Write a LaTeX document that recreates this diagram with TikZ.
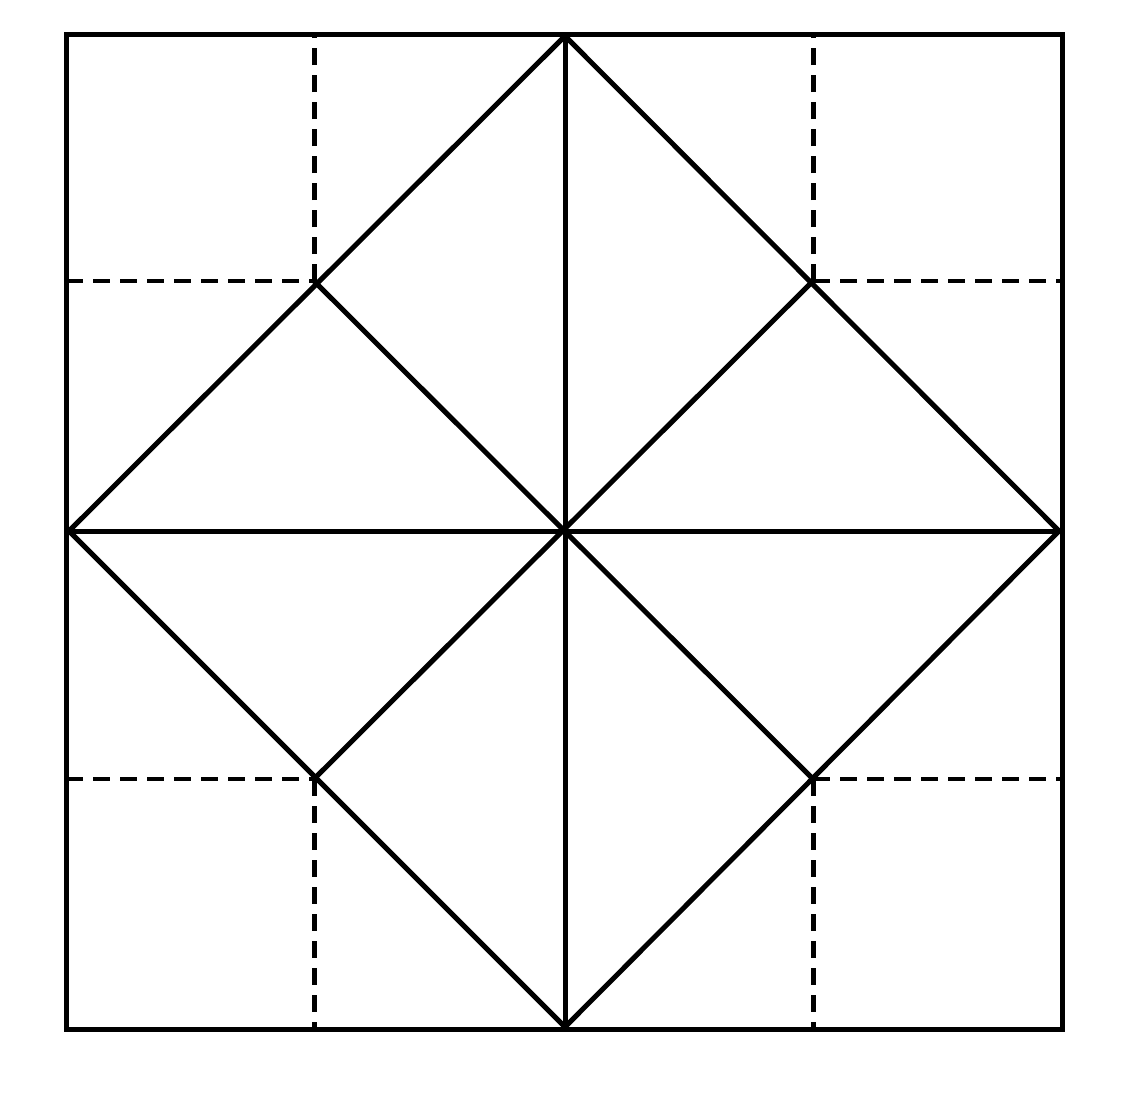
\documentclass[tikz,border=0pt]{standalone}
\begin{document}
\begin{tikzpicture}[x=1pt,y=-1pt,
  solidline/.style={line width=5pt,line cap=butt,line join=miter},
  foldline/.style={line width=5pt,dash pattern=on 17pt off 10pt}]
\useasboundingbox (0,0) rectangle (1140,1095);
\coordinate (NW) at (66,34);
\coordinate (SE) at (1062,1029);
\coordinate (T) at (565,36);
\coordinate (R) at (1059,531);
\coordinate (B) at (565,1027);
\coordinate (L) at (69,531);
\coordinate (C) at (565,531);
\coordinate (P1) at (314,281);
\coordinate (P2) at (813,281);
\coordinate (P3) at (314,779);
\coordinate (P4) at (813,779);
\coordinate (P1t) at (314,34);
\coordinate (P2t) at (813,34);
\coordinate (P3b) at (314,1029);
\coordinate (P4b) at (813,1029);
\coordinate (P1l) at (66,281);
\coordinate (P2r) at (1062,281);
\coordinate (P3l) at (66,779);
\coordinate (P4r) at (1062,779);
% fold lines
\draw[foldline] (P1) -- (P1t);
\draw[foldline] (P2) -- (P2t);
\draw[foldline] (P3) -- (P3b);
\draw[foldline] (P4) -- (P4b);
\draw[foldline,line width=4pt] (P1l) -- (P1);
\draw[foldline,line width=4pt] (P2) -- (P2r);
\draw[foldline,line width=4pt] (P3l) -- (P3);
\draw[foldline,line width=4pt] (P4) -- (P4r);
% outer square
\draw[solidline] (NW) rectangle (SE);
% diamond
\draw[solidline] (T) -- (R) -- (B) -- (L) -- cycle;
% center cross
\draw[solidline] (T) -- (B);
\draw[solidline] (L) -- (R);
% inner diagonals
\draw[solidline] (P1) -- (P4);
\draw[solidline] (P2) -- (P3);
\end{tikzpicture}
\end{document}
